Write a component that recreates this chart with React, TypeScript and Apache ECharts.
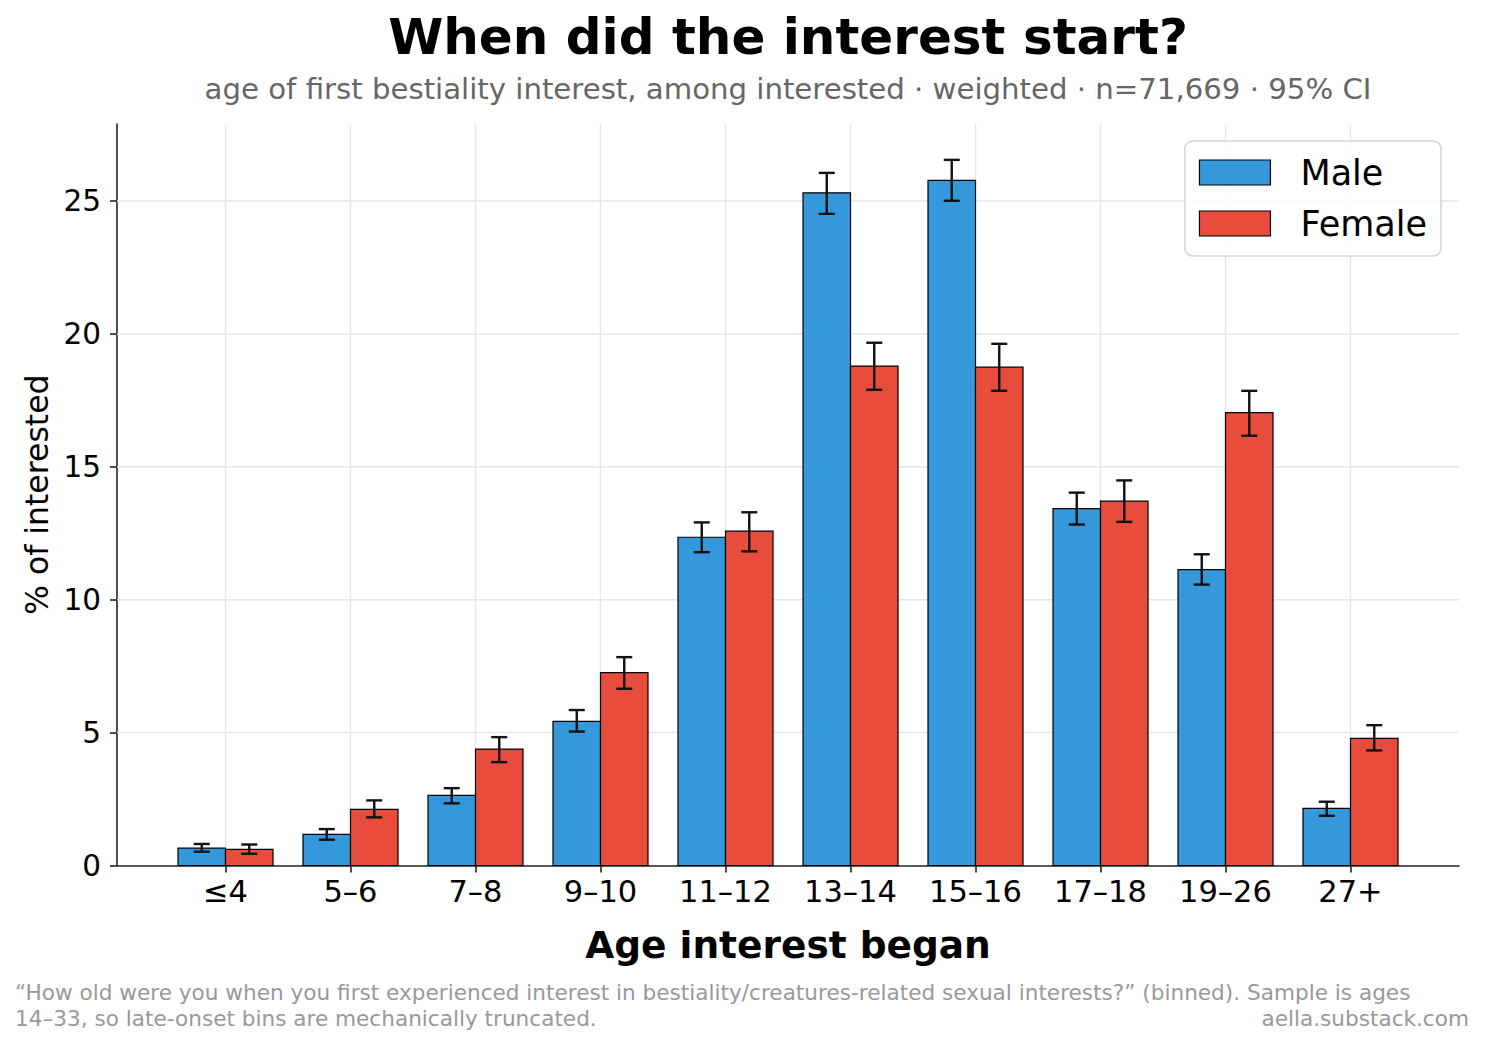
import React, { useEffect, useRef } from "react";
import * as echarts from "echarts";

// Age bins for onset of interest
const CATEGORIES = ["≤4", "5–6", "7–8", "9–10", "11–12", "13–14", "15–16", "17–18", "19–26", "27+"];

// Weighted share of interested respondents (%) with 95% CI bounds
const MALE = [0.65, 1.17, 2.64, 5.42, 12.35, 25.31, 25.78, 13.43, 11.13, 2.15];
const MALE_LO = [0.52, 0.97, 2.34, 5.04, 11.79, 24.52, 25.01, 12.83, 10.57, 1.87];
const MALE_HI = [0.81, 1.37, 2.91, 5.85, 12.91, 26.06, 26.55, 14.03, 11.71, 2.4];

const FEMALE = [0.61, 2.11, 4.38, 7.26, 12.58, 18.79, 18.75, 13.71, 17.04, 4.78];
const FEMALE_LO = [0.44, 1.81, 3.89, 6.65, 11.82, 17.9, 17.86, 12.93, 16.17, 4.33];
const FEMALE_HI = [0.79, 2.45, 4.83, 7.84, 13.29, 19.67, 19.63, 14.49, 17.86, 5.28];

const Y_TICKS = [0, 5, 10, 15, 20, 25];

const FONT = "DejaVu Sans";
const MALE_COLOR = "#3498db";
const FEMALE_COLOR = "#e74c3c";
const BAR_W = 0.38;
const AXIS_COLOR = "#222";
const GRID_COLOR = "#e6e6e6";

function barRenderer(side: number, color: string) {
  return (params: any, api: any) => {
    const x = api.value(0);
    const v = api.value(1);
    const left = side < 0 ? x - BAR_W : x;
    const a = api.coord([left, v]);
    const b = api.coord([left + BAR_W, 0]);
    return {
      type: "rect",
      shape: { x: a[0], y: a[1], width: b[0] - a[0], height: b[1] - a[1] },
      style: { fill: color, stroke: "#000", lineWidth: 1.2 },
    };
  };
}

function errRenderer(side: number) {
  return (params: any, api: any) => {
    const x = api.value(0) + (side * BAR_W) / 2;
    const top = api.coord([x, api.value(2)]);
    const bot = api.coord([x, api.value(1)]);
    const cap = 8;
    const st = { stroke: "#111", lineWidth: 2.4 };
    return {
      type: "group",
      children: [
        { type: "line", shape: { x1: top[0], y1: top[1], x2: bot[0], y2: bot[1] }, style: st },
        { type: "line", shape: { x1: top[0] - cap, y1: top[1], x2: top[0] + cap, y2: top[1] }, style: st },
        { type: "line", shape: { x1: bot[0] - cap, y1: bot[1], x2: bot[0] + cap, y2: bot[1] }, style: st },
      ],
    };
  };
}

function vGridRenderer(params: any, api: any) {
  const p = api.coord([api.value(0), 0]);
  const cs = params.coordSys;
  return {
    type: "line",
    shape: { x1: p[0], y1: cs.y, x2: p[0], y2: cs.y + cs.height },
    style: { stroke: GRID_COLOR, lineWidth: 1.5 },
  };
}

function hGridRenderer(params: any, api: any) {
  const p = api.coord([0, api.value(1)]);
  const cs = params.coordSys;
  return {
    type: "line",
    shape: { x1: cs.x, y1: p[1], x2: cs.x + cs.width, y2: p[1] },
    style: { stroke: GRID_COLOR, lineWidth: 1.5 },
  };
}

export default function App() {
  const ref = useRef<HTMLDivElement>(null);

  useEffect(() => {
    document.body.style.margin = "0";
    if (!ref.current) return;
    const chart = echarts.init(ref.current, undefined, { renderer: "svg" });
    const idx = CATEGORIES.map((_, i) => i);

    chart.setOption({
      animation: false,
      backgroundColor: "#fff",
      textStyle: { fontFamily: FONT },
      grid: { left: 117, right: 26, top: 124, bottom: 177.5, containLabel: false },
      xAxis: {
        type: "value",
        min: -0.868,
        max: 9.868,
        name: "Age interest began",
        nameLocation: "middle",
        nameGap: 60,
        nameTextStyle: { fontFamily: FONT, fontSize: 37.5, fontWeight: "bold", color: "#000" },
        axisLine: { show: true, onZero: false, lineStyle: { color: AXIS_COLOR, width: 1.6 } },
        axisTick: { show: true, length: 7, lineStyle: { color: AXIS_COLOR, width: 1.6 }, customValues: idx },
        axisLabel: {
          customValues: idx,
          formatter: (v: number) => CATEGORIES[Math.round(v)] ?? "",
          fontFamily: FONT,
          fontSize: 30.5,
          color: "#000",
          margin: 10,
        },
        splitLine: { show: false },
      },
      yAxis: {
        type: "value",
        min: 0,
        max: 27.9,
        name: "% of interested",
        nameLocation: "middle",
        nameGap: 58,
        nameTextStyle: { fontFamily: FONT, fontSize: 31.5, color: "#000" },
        axisLine: { show: true, onZero: false, lineStyle: { color: AXIS_COLOR, width: 1.6 } },
        axisTick: { show: true, length: 7, lineStyle: { color: AXIS_COLOR, width: 1.6 }, customValues: Y_TICKS },
        axisLabel: {
          customValues: Y_TICKS,
          fontFamily: FONT,
          fontSize: 29.5,
          color: "#000",
          margin: 16,
        },
        splitLine: { show: false },
      },
      legend: {
        data: [
          { name: "Male", icon: "rect", itemStyle: { color: MALE_COLOR, borderColor: "#000", borderWidth: 1.2 } },
          { name: "Female", icon: "rect", itemStyle: { color: FEMALE_COLOR, borderColor: "#000", borderWidth: 1.2 } },
        ],
        orient: "vertical",
        right: 44,
        top: 141,
        itemWidth: 71,
        itemHeight: 25,
        itemGap: 16,
        padding: [14, 14, 15, 14],
        selectedMode: false,
        backgroundColor: "rgba(255,255,255,0.85)",
        borderColor: "#d4d4d4",
        borderWidth: 1.5,
        borderRadius: 8,
        textStyle: { fontFamily: FONT, fontSize: 35, color: "#000", padding: [0, 0, 0, 25] },
      },
      series: [
        {
          name: "vgrid",
          type: "custom",
          z: 1,
          silent: true,
          renderItem: vGridRenderer,
          encode: { x: 0, y: 1 },
          data: idx.map((i) => [i, 0]),
        },
        {
          name: "hgrid",
          type: "custom",
          z: 1,
          silent: true,
          renderItem: hGridRenderer,
          encode: { x: 0, y: 1 },
          data: Y_TICKS.filter((v) => v > 0).map((v) => [0, v]),
        },
        {
          name: "Male",
          type: "custom",
          z: 2,
          itemStyle: { color: MALE_COLOR },
          renderItem: barRenderer(-1, MALE_COLOR),
          encode: { x: 0, y: 1 },
          data: MALE.map((v, i) => [i, v]),
        },
        {
          name: "Female",
          type: "custom",
          z: 2,
          itemStyle: { color: FEMALE_COLOR },
          renderItem: barRenderer(1, FEMALE_COLOR),
          encode: { x: 0, y: 1 },
          data: FEMALE.map((v, i) => [i, v]),
        },
        {
          name: "Male 95% CI",
          type: "custom",
          z: 3,
          renderItem: errRenderer(-1),
          encode: { x: 0, y: [1, 2] },
          data: MALE.map((_, i) => [i, MALE_LO[i], MALE_HI[i]]),
        },
        {
          name: "Female 95% CI",
          type: "custom",
          z: 3,
          renderItem: errRenderer(1),
          encode: { x: 0, y: [1, 2] },
          data: FEMALE.map((_, i) => [i, FEMALE_LO[i], FEMALE_HI[i]]),
        },
      ],
      graphic: [
        {
          type: "text",
          x: 788,
          y: 37,
          style: {
            text: "When did the interest start?",
            font: `bold 50px "${FONT}"`,
            fill: "#000",
            textAlign: "center",
            textVerticalAlign: "middle",
          },
        },
        {
          type: "text",
          x: 788,
          y: 89,
          style: {
            text: "age of first bestiality interest, among interested · weighted · n=71,669 · 95% CI",
            font: `29.2px "${FONT}"`,
            fill: "#666",
            textAlign: "center",
            textVerticalAlign: "middle",
          },
        },
        {
          type: "text",
          x: 15,
          y: 992,
          style: {
            text: "“How old were you when you first experienced interest in bestiality/creatures-related sexual interests?” (binned). Sample is ages",
            font: `21.6px "${FONT}"`,
            fill: "#999",
            textAlign: "left",
            textVerticalAlign: "middle",
          },
        },
        {
          type: "text",
          x: 15,
          y: 1018,
          style: {
            text: "14–33, so late-onset bins are mechanically truncated.",
            font: `21.6px "${FONT}"`,
            fill: "#999",
            textAlign: "left",
            textVerticalAlign: "middle",
          },
        },
        {
          type: "text",
          x: 1469,
          y: 1018,
          style: {
            text: "aella.substack.com",
            font: `21.6px "${FONT}"`,
            fill: "#999",
            textAlign: "right",
            textVerticalAlign: "middle",
          },
        },
      ],
    });

    return () => chart.dispose();
  }, []);

  return (
    <div
      ref={ref}
      style={{ position: "absolute", left: 0, top: 0, width: 1485, height: 1043 }}
    />
  );
}
